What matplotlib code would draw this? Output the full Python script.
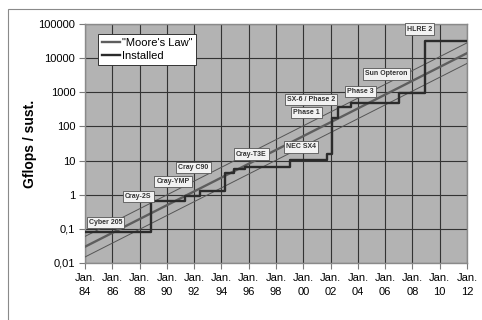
import matplotlib
matplotlib.use("Agg")
import matplotlib.pyplot as plt
from matplotlib.patches import Rectangle

plt.rcParams['font.family'] = ['Liberation Sans', 'DejaVu Sans']

# Installed systems (step line), decimal years
inst_years = [1984.0, 1988.85, 1991.3, 1992.4, 1994.25, 1994.9, 1995.7, 1999.0,
              2001.75, 2002.1, 2002.55, 2003.5, 2007.0, 2008.95, 2012.0]
inst_vals = [0.08, 0.65, 0.9, 1.25, 4.4, 5.5, 6.3, 10.5,
             16, 175, 360, 500, 950, 32000, 32000]

# "Moore's Law" line and the factor-2 band around it
moore_years = [1984.0, 2012.0]
moore_vals = [0.03, 14000]
moore_hi = [0.06, 28000]
moore_lo = [0.015, 7000]

# System labels
sys_names = ['Cyber 205', 'Cray-2S', 'Cray-YMP', 'Cray C90', 'Cray-T3E', 'NEC SX4',
             'Phase 1', 'SX-6 / Phase 2', 'Phase 3', 'Sun Opteron', 'HLRE 2']
sys_x = [1985.5, 1987.9, 1990.45, 1991.95, 1996.2, 1999.85,
         2000.25, 2000.55, 2004.2, 2006.1, 2008.5]
sys_y = [0.15, 0.9, 2.4, 6.1, 15.5, 25, 250, 630, 1080, 3450, 71000]

x_ticks = list(range(1984, 2013, 2))
x_labels = ['Jan.\n%02d' % (y % 100) for y in x_ticks]
y_ticks = [0.01, 0.1, 1, 10, 100, 1000, 10000, 100000]
y_labels = ['0,01', '0,1', '1', '10', '100', '1000', '10000', '100000']

fig = plt.figure(figsize=(4.82, 3.2), dpi=100)
ax = fig.add_axes([85 / 482, 1 - 263 / 320, 382 / 482, 239 / 320])
ax.set_facecolor('#b3b3b3')

# outer frame of the chart
fig.patches.append(Rectangle((8 / 482, -0.1), 1.1, 1 - 9 / 320 + 0.1,
                             transform=fig.transFigure, fill=False,
                             edgecolor='#8a8a8a', linewidth=0.8))

ax.plot(moore_years, moore_hi, color='#555555', lw=0.7, zorder=3)
ax.plot(moore_years, moore_lo, color='#555555', lw=0.7, zorder=3)
ax.plot(moore_years, moore_vals, color='#5e5e5e', lw=1.7, zorder=3, label='"Moore\'s Law"')
ax.step(inst_years, inst_vals, where='post', color='#2b2b2b', lw=1.7, zorder=4, label='Installed')

for name, x, y in zip(sys_names, sys_x, sys_y):
    ax.text(x, y, name, fontsize=5, fontweight='bold', color='#333333',
            ha='center', va='center', zorder=5,
            bbox=dict(boxstyle='square,pad=0.3', facecolor='#f2f2f2',
                      edgecolor='#555555', linewidth=0.6))

ax.set_yscale('log')
ax.set_xlim(1984, 2012)
ax.set_ylim(0.01, 100000)
ax.set_xticks(x_ticks)
ax.set_xticklabels(x_labels, fontsize=8, linespacing=1.55)
ax.set_yticks(y_ticks)
ax.set_yticklabels(y_labels, fontsize=8)
ax.minorticks_off()
ax.tick_params(axis='both', length=4, width=0.8, color='#7a7a7a', pad=3)

ax.grid(True, color='#333333', linewidth=0.8, zorder=1)
ax.set_axisbelow(True)
for s in ax.spines.values():
    s.set_color('#8a8a8a')
    s.set_linewidth(1.0)

ax.set_ylabel('Gflops / sust.', fontsize=10, fontweight='bold', labelpad=1)

leg = ax.legend(loc='upper left', bbox_to_anchor=(0.034, 0.958), fontsize=8,
                handlelength=1.6, handletextpad=0.2, borderpad=0.35,
                labelspacing=0.3, fancybox=False, framealpha=1,
                borderaxespad=0)
leg.get_frame().set_edgecolor('#333333')
leg.get_frame().set_linewidth(0.7)

fig.savefig('out.png', dpi=100)
